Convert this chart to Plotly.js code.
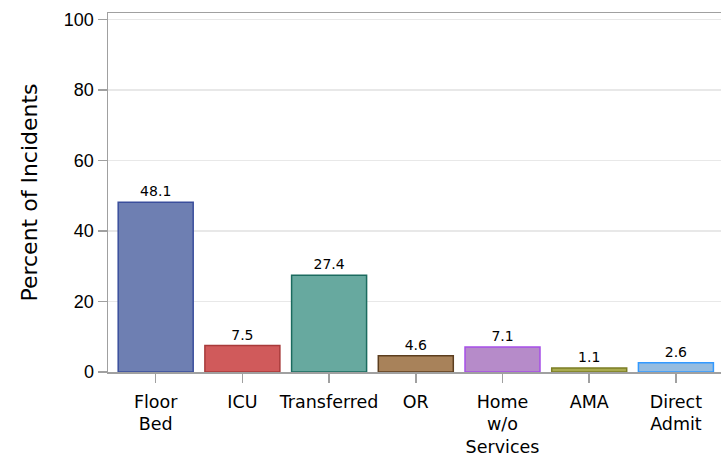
<!DOCTYPE html>
<html>
<head>
<meta charset="utf-8">
<script src="https://cdn.plot.ly/plotly-3.0.1.min.js"></script>
<style>html,body{margin:0;padding:0;background:#fff;}</style>
</head>
<body>
<div id="chart" style="width:721px;height:458px;"></div>
<script>
const categories = ["Floor<br>Bed", "ICU", "Transferred", "OR", "Home<br>w/o<br>Services", "AMA", "Direct<br>Admit"];
const values = [48.1, 7.5, 27.4, 4.6, 7.1, 1.1, 2.6];
const fillColors = ["#6e7fb2", "#d05a5b", "#67a99f", "#a8825a", "#b68bc9", "#a9ab4f", "#95bce0"];
const lineColors = ["#3a4e9c", "#a83a3a", "#1b6b5f", "#5c3e1f", "#a64fe8", "#7b7d25", "#3399ff"];
const yTicks = [0, 20, 40, 60, 80, 100];

const trace = {
  type: "bar",
  x: categories,
  y: values,
  width: 0.865,
  marker: {color: fillColors, line: {color: lineColors, width: 1.5}},
  text: values.map(v => v.toFixed(1)),
  textposition: "outside",
  textfont: {family: "DejaVu Sans", size: 14, color: "#000"},
  cliponaxis: false,
  hoverinfo: "none"
};

const layout = {
  width: 721, height: 458,
  margin: {l: 108, r: 0, t: 13, b: 86},
  paper_bgcolor: "#fff", plot_bgcolor: "#fff",
  showlegend: false,
  xaxis: {
    type: "category",
    range: [-0.55, 6.52],
    showgrid: false,
    showline: true, linecolor: "#a0a0a0", linewidth: 1.5,
    mirror: true,
    ticks: "outside", ticklen: 9, tickcolor: "#a0a0a0", tickwidth: 1.5,
    tickfont: {family: "DejaVu Sans", size: 17.5, color: "#000"},
    ticklabelstandoff: 4,
    tickangle: 0,
    automargin: false
  },
  yaxis: {
    range: [0, 101.8],
    tickvals: yTicks,
    showgrid: true, gridcolor: "#e8e8e8", gridwidth: 1.5,
    zeroline: false,
    showline: true, linecolor: "#a0a0a0", linewidth: 1.5,
    ticks: "outside", ticklen: 9, tickcolor: "#a0a0a0", tickwidth: 1.5,
    tickfont: {family: "Liberation Sans", size: 18, color: "#000"},
    title: {text: "Percent of Incidents", font: {family: "DejaVu Sans", size: 22, color: "#000"}, standoff: 20},
    automargin: false
  }
};

Plotly.newPlot("chart", [trace], layout, {displayModeBar: false, staticPlot: true});
</script>
</body>
</html>
